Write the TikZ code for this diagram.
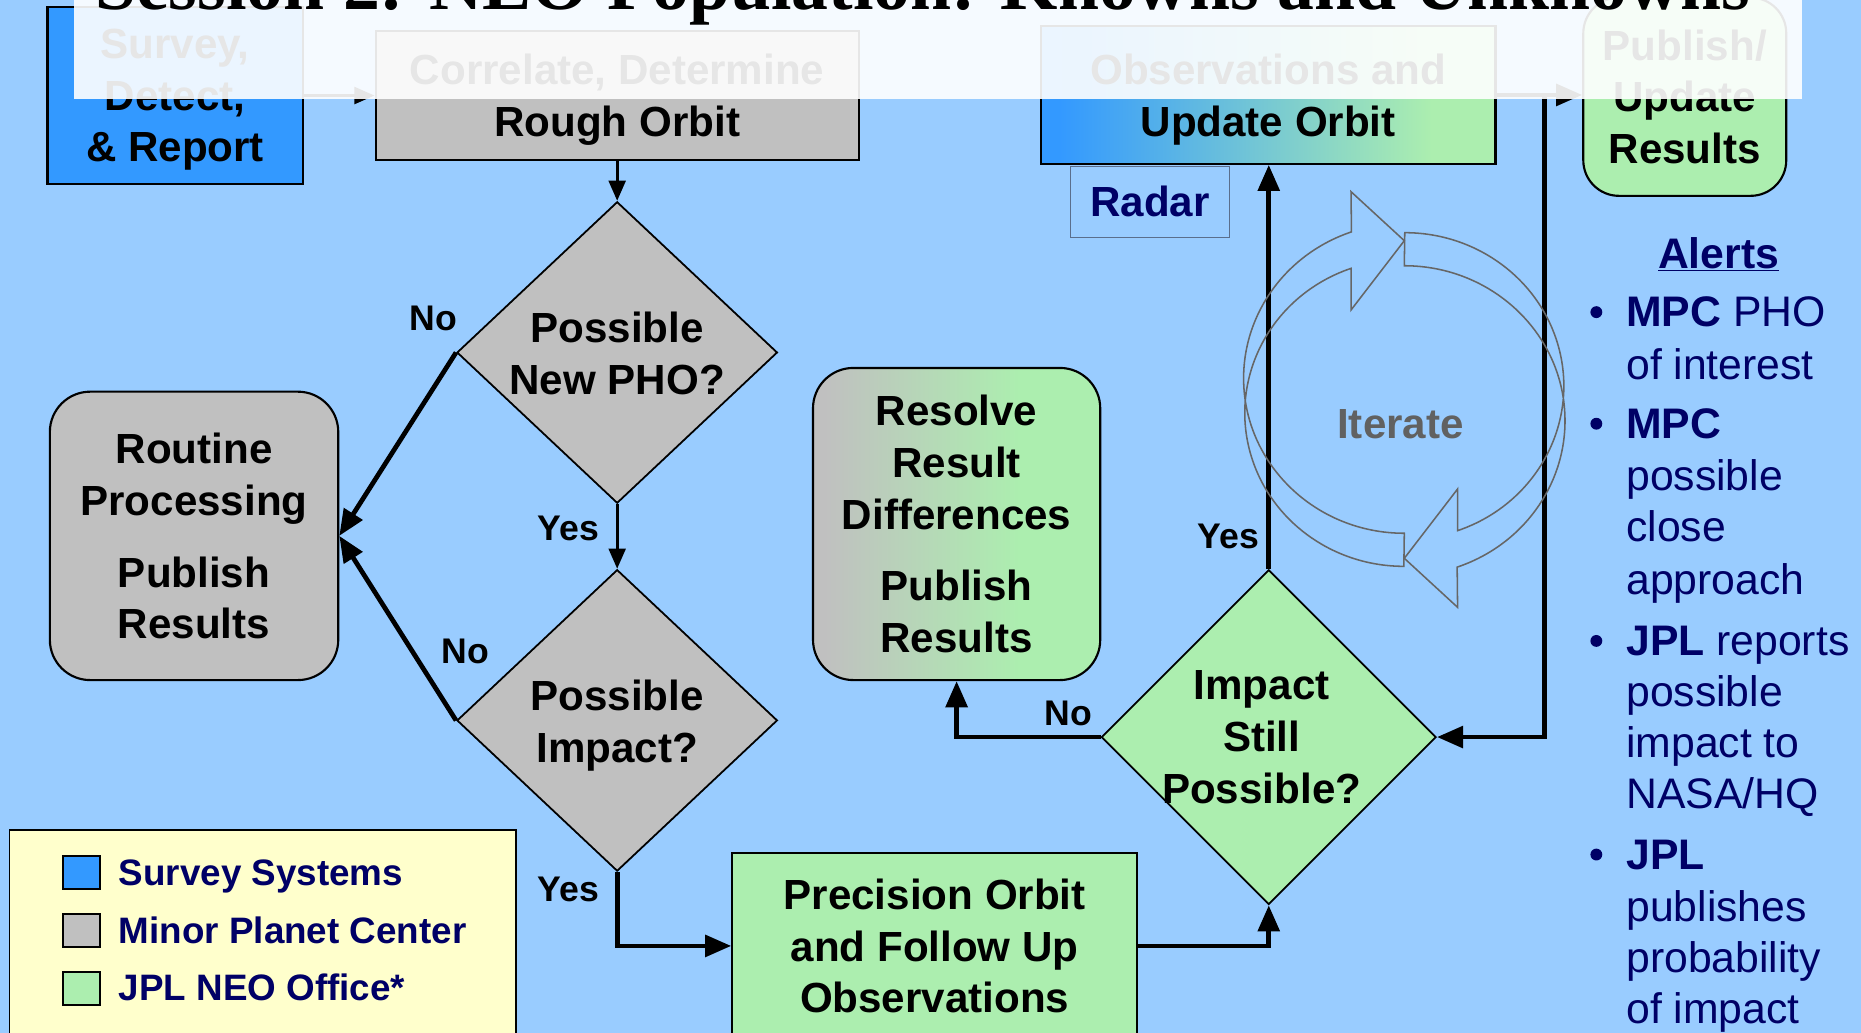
\documentclass[tikz,border=0pt]{standalone}
\usepackage{graphicx}
\usepackage{fontspec}
\setmainfont{Liberation Sans}
\newfontfamily\titlefont{Liberation Serif}
\usetikzlibrary{arrows.meta,shapes.geometric}
\definecolor{bgblue}{RGB}{153,204,255}
\definecolor{sblue}{RGB}{51,153,255}
\definecolor{mgray}{RGB}{192,192,192}
\definecolor{jgreen}{RGB}{172,238,175}
\definecolor{navy}{RGB}{0,0,102}
\definecolor{legendy}{RGB}{255,255,204}
\definecolor{igray}{RGB}{102,102,102}
\definecolor{radarline}{RGB}{90,110,140}
\pgfdeclarehorizontalshading{bluegreen}{100bp}{color(0bp)=(sblue); color(27bp)=(sblue); color(68bp)=(jgreen); color(100bp)=(jgreen)}
\pgfdeclarehorizontalshading{graygreen}{100bp}{color(0bp)=(mgray); color(27bp)=(mgray); color(61bp)=(jgreen); color(100bp)=(jgreen)}
\begin{document}
\begin{tikzpicture}[x=1pt,y=-1pt,
  boxfont/.style={font=\fontsize{35.5pt}{43.5pt}\selectfont\bfseries},
  box/.style={draw=black, line width=1.8pt, inner sep=0pt, align=center, boxfont, text depth=0pt},
  rbox/.style={box, rounded corners=34pt},
  dia/.style={diamond, draw=black, line width=1.5pt, inner sep=0pt, fill=mgray},
  dtext/.style={align=center, boxfont, inner sep=0pt, text depth=0pt},
  conn/.style={line width=4pt, -{Triangle[length=22pt,width=18pt]}},
  connthin/.style={line width=2.8pt, -{Triangle[length=17pt,width=14pt]}},
  lbl/.style={font=\fontsize{30pt}{36pt}\selectfont\bfseries, inner sep=0pt},
  alert/.style={font=\fontsize{36pt}{43.5pt}\selectfont, text=navy, inner sep=0pt, anchor=base west},
  legsq/.style={draw=black, line width=1.5pt, minimum width=31pt, minimum height=28pt, inner sep=0pt},
  legtxt/.style={font=\fontsize{31pt}{37pt}\selectfont\bfseries, text=navy, inner sep=0pt, anchor=base west},
  iter/.style={draw=igray, line width=1.3pt},
]
\useasboundingbox (0,0) rectangle (1568,870);
\clip (0,0) rectangle (1568,870);
\fill[bgblue] (0,0) rectangle (1568,870);

% boxes
\node[box, fill=sblue, minimum width=215pt, minimum height=149pt] (survey) at (147.5,80.5) {Survey,\\Detect,\\\& Report};
\node[box, fill=mgray, minimum width=407pt, minimum height=109pt] (rough) at (520,80.5) {Correlate, Determine\\Rough Orbit};
\node[box, shading=bluegreen, minimum width=383pt, minimum height=116pt] (upd) at (1068.5,80) {Observations and\\Update Orbit};
\node[box, fill=jgreen, rounded corners=30pt, minimum width=171pt, minimum height=167pt] (pub) at (1419.5,81.5) {Publish/\\Update\\Results};
\node[draw=radarline, line width=1pt, minimum width=134pt, minimum height=60pt, inner sep=0pt, font=\fontsize{35.5pt}{43.5pt}\selectfont\bfseries, text=navy] (radar) at (969,170) {Radar};

% diamonds
\node[dia, minimum width=270pt, minimum height=254pt] (d1) at (520,297) {};
\node[dtext] (t1) at (520,297.5) {Possible\\New PHO?};
\node[dia, minimum width=270pt, minimum height=254pt] (d2) at (520,607) {};
\node[dtext] (t2) at (520,607.5) {Possible\\Impact?};
\node[dia, fill=jgreen, minimum width=282pt, minimum height=282pt] (d3) at (1069,621) {};
\node[dtext] (t3) at (1063,621) {Impact\\Still\\Possible?};

% rounded boxes
\node[rbox, fill=mgray, minimum width=243pt, minimum height=243pt] (routine) at (163.5,451.5) {Routine\\Processing\\[17pt]Publish\\Results};
\node[rbox, shading=graygreen, minimum width=242pt, minimum height=263pt] (resolve) at (806,441.5) {Resolve\\Result\\Differences\\[17pt]Publish\\Results};
\node[box, fill=jgreen, minimum width=341pt, minimum height=156pt] (prec) at (787.5,797) {Precision Orbit\\and Follow Up\\Observations};

% legend
\node[draw=black, line width=1.5pt, fill=legendy, minimum width=427pt, minimum height=190pt, inner sep=0pt] (legend) at (221.5,794) {};
\node[legsq, fill=sblue] (sq1) at (68.5,735) {};
\node[legsq, fill=mgray] (sq2) at (68.5,784) {};
\node[legsq, fill=jgreen] (sq3) at (68.5,833) {};
\node[legtxt] (lg1) at (100,746) {Survey Systems};
\node[legtxt] (lg2) at (100,795) {Minor Planet Center};
\node[legtxt] (lg3) at (100,843) {JPL NEO Office*};

% connectors
\draw[connthin] (survey.east) -- (rough.west);
\draw[connthin] (rough.south) -- (d1.north);
\draw[conn] (d1.west) -- (routine.east);
\draw[connthin] (d1.south) -- (d2.north);
\draw[conn] (d2.west) -- (routine.east);
\draw[conn] (d2.south) |- (prec.west);
\draw[conn] (prec.east) -| (d3.south);
\draw[conn] (d3.west) -| (resolve.south);
\draw[conn] (d3.north) -- (d3.north |- upd.south);
\draw[conn] (upd.east) -- (upd.east -| pub.west);
\coordinate (j1) at (1301,80);
\draw[conn] (j1) |- (d3.east);

% labels
\node[lbl] (no1) at (365,268) {No};
\node[lbl] (yes1) at (479,445) {Yes};
\node[lbl] (no2) at (392,549) {No};
\node[lbl] (yes2) at (479,749) {Yes};
\node[lbl] (no3) at (900,601) {No};
\node[lbl] (yes3) at (1035,452) {Yes};

% iterate
\begin{scope}[shift={(1183.2,336.6)}]
\draw[iter] (-44.9,-110.5) arc[start angle=250.6, end angle=90, x radius=134, y radius=129.2] -- (0,112.7) arc[start angle=90, end angle=250.8, x radius=135.4, y radius=130.6] -- (-44.9,-175.1) -- (0,-133.8) -- (-44.9,-75.4) -- cycle;
\end{scope}
\begin{scope}[shift={(1183.2,336.6)}, rotate=180]
\draw[iter] (-44.9,-110.5) arc[start angle=250.6, end angle=90, x radius=134, y radius=129.2] -- (0,112.7) arc[start angle=90, end angle=250.8, x radius=135.4, y radius=130.6] -- (-44.9,-175.1) -- (0,-133.8) -- (-44.9,-75.4) -- cycle;
\end{scope}
\node[font=\fontsize{35.5pt}{43.5pt}\selectfont\bfseries, text=igray!95!black, inner sep=0pt] (iterate) at (1180,357) {Iterate};

% alerts
\node[font=\fontsize{36pt}{43pt}\selectfont\bfseries, text=navy, inner sep=0pt] (alerts) at (1448,214) {\underline{Alerts}};
\fill[navy] (1345,263) circle (5);
\fill[navy] (1345,357) circle (5);
\fill[navy] (1345,540) circle (5);
\fill[navy] (1345,720) circle (5);
\node[alert] (a1) at (1370,275.5) {\textbf{MPC} PHO};
\node[alert] (a2) at (1370,319.5) {of interest};
\node[alert] (a3) at (1370,369.5) {\textbf{MPC}};
\node[alert] (a4) at (1370,413.5) {possible};
\node[alert] (a5) at (1370,456.5) {close};
\node[alert] (a6) at (1370,500.5) {approach};
\node[alert] (a7) at (1370,552.5) {\textbf{JPL} reports};
\node[alert] (a8) at (1370,595.5) {possible};
\node[alert] (a9) at (1370,638.5) {impact to};
\node[alert] (a10) at (1370,681.5) {NASA/HQ};
\node[alert] (a11) at (1370,732.5) {\textbf{JPL}};
\node[alert] (a12) at (1370,776.5) {publishes};
\node[alert] (a13) at (1370,819.5) {probability};
\node[alert] (a14) at (1370,862.5) {of impact};

% title overlay
\fill[white, opacity=0.9] (62,0) rectangle (1518,83);
\node[anchor=base west, inner sep=0pt, font=\fontsize{62pt}{70pt}\selectfont\titlefont\bfseries] (title) at (80,8) {\resizebox{1395pt}{!}{Session 2: NEO Population: Knowns and Unknowns}};
\end{tikzpicture}
\end{document}
